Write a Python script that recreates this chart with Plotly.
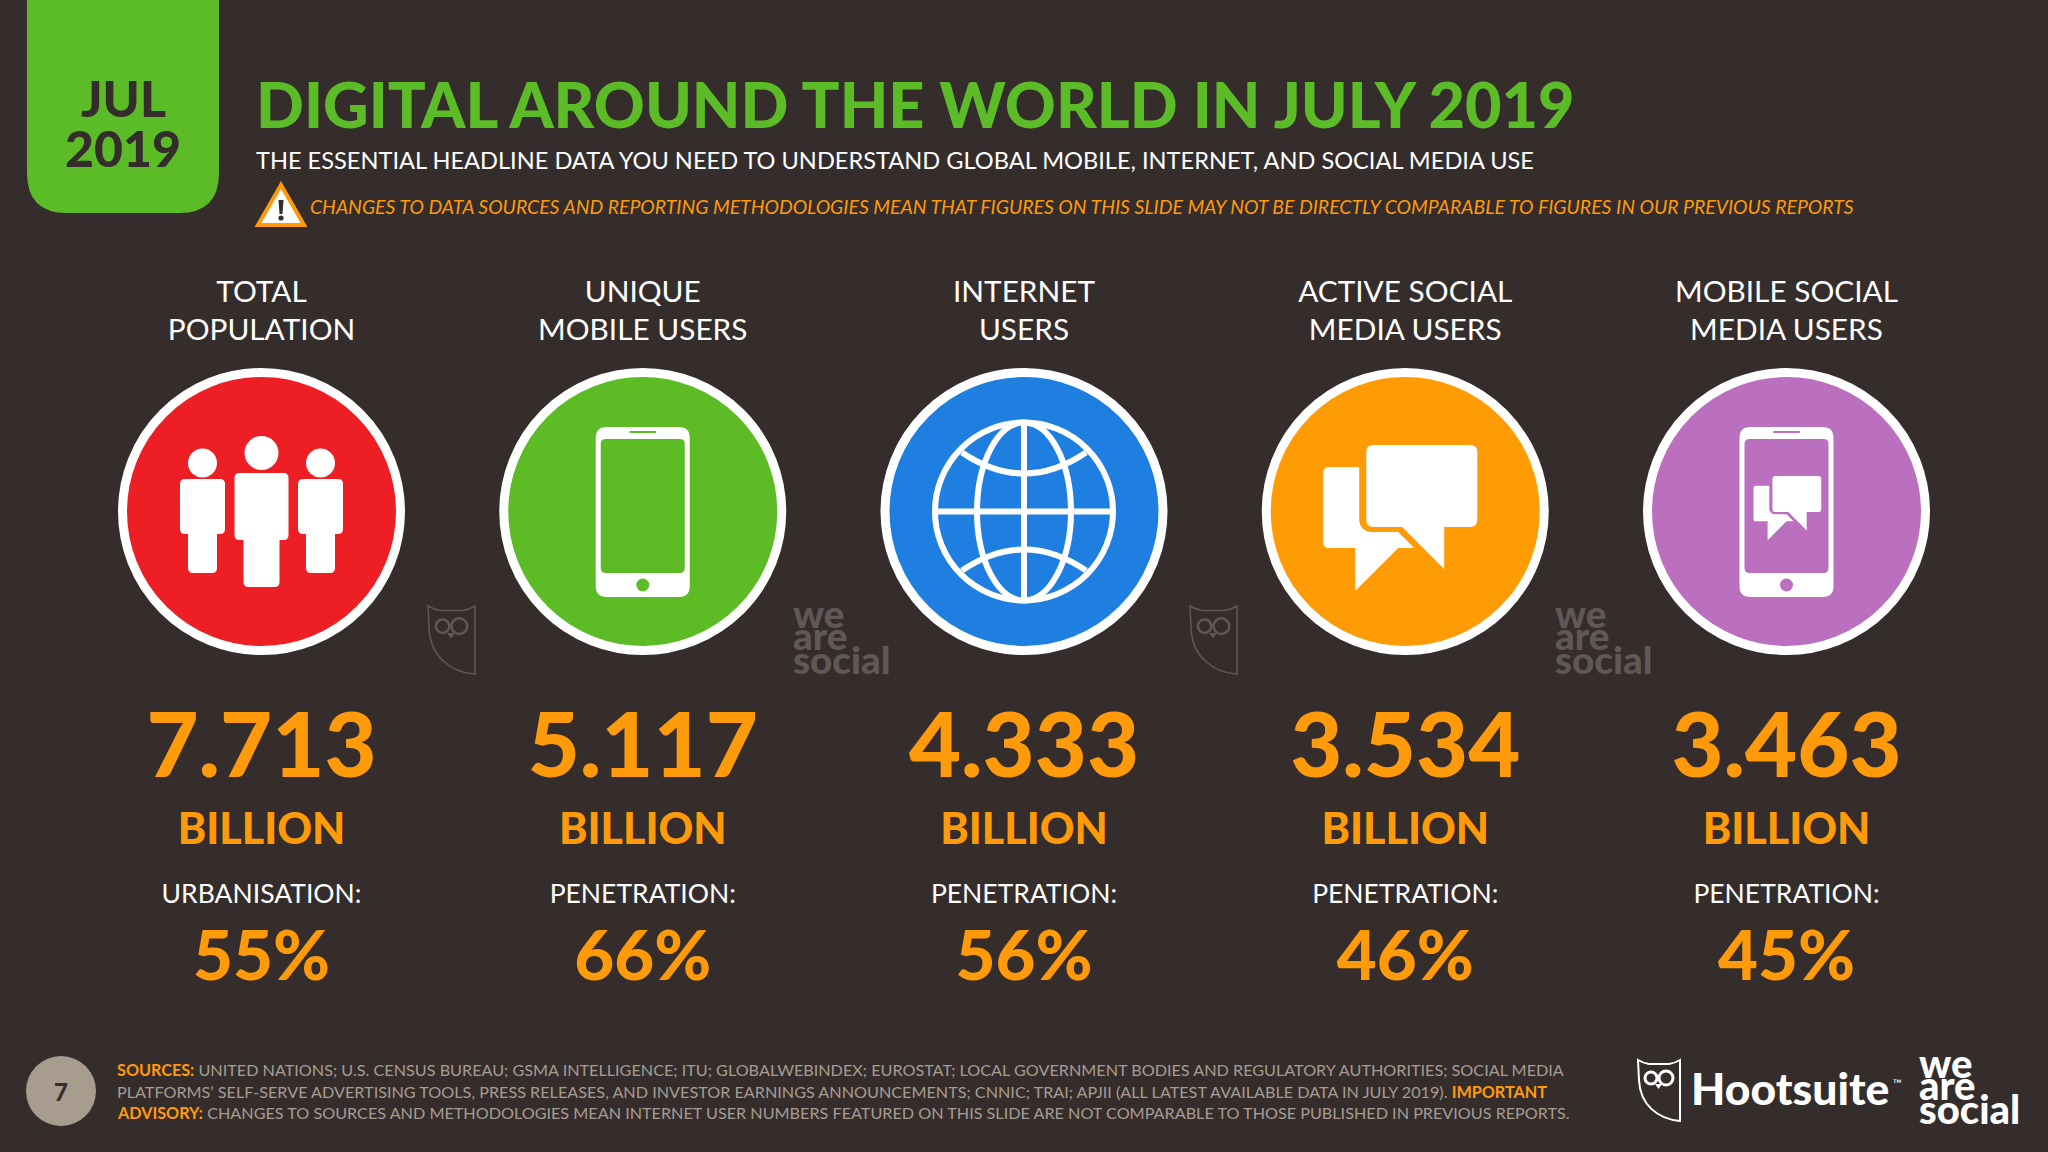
import plotly.graph_objects as go

# slide data
header_top = ["TOTAL", "UNIQUE", "INTERNET", "ACTIVE SOCIAL", "MOBILE SOCIAL"]
header_bottom = ["POPULATION", "MOBILE USERS", "USERS", "MEDIA USERS", "MEDIA USERS"]
values = ["7.713", "5.117", "4.333", "3.534", "3.463"]
units = ["BILLION"] * 5
rate_labels = ["URBANISATION:", "PENETRATION:", "PENETRATION:", "PENETRATION:", "PENETRATION:"]
rates = ["55%", "66%", "56%", "46%", "45%"]
circle_colors = ["#ee1f24", "#5dbb26", "#1f7fe0", "#ff9b04", "#bb6fbf"]

BG = "#352d2b"
GREEN = "#5cbc27"
ORANGE = "#ff9a0a"
WHITE = "#ffffff"
FAINT = "#5f5856"
GREY = "#a69c92"
FONT = "Lato"

cx = [261.5 + 381.25 * i for i in range(5)]
cy = 511.5


def rrect(x0, y0, x1, y1, r):
    return (f"M{x0+r},{y0} L{x1-r},{y0} Q{x1},{y0} {x1},{y0+r} L{x1},{y1-r} Q{x1},{y1} {x1-r},{y1} "
            f"L{x0+r},{y1} Q{x0},{y1} {x0},{y1-r} L{x0},{y0+r} Q{x0},{y0} {x0+r},{y0} Z")


shapes = []


def path(d, fill=WHITE, line=None, width=0):
    shapes.append(dict(type="path", path=d, fillcolor=fill, xref="x", yref="y",
                       line=dict(color=line or fill, width=width)))


def circle(x, y, r, fill=WHITE, line=None, width=0):
    shapes.append(dict(type="circle", x0=x - r, x1=x + r, y0=y - r, y1=y + r, xref="x", yref="y",
                       fillcolor=fill, line=dict(color=line or fill, width=width)))


def ellipse(x, y, rx, ry, line, width):
    shapes.append(dict(type="circle", x0=x - rx, x1=x + rx, y0=y - ry, y1=y + ry, xref="x", yref="y",
                       fillcolor="rgba(0,0,0,0)", line=dict(color=line, width=width)))


def person(x, head_y, head_r, body_w, body_top, body_bot, leg_w, leg_bot):
    circle(x, head_y, head_r)
    path(rrect(x - body_w / 2, body_top, x + body_w / 2, body_bot, 5))
    path(rrect(x - leg_w / 2, body_bot - 10, x + leg_w / 2, leg_bot, 5))


def phone(x, half_w, half_screen, color):
    path(rrect(x - half_w, 427, x + half_w, 597, 11))
    path(rrect(x - half_screen, 439, x + half_screen, 573, 5), fill=color)
    path(rrect(x - 13.5, 431, x + 13.5, 433, 1), fill=color)
    circle(x, 585, 6.5, fill=color)


def chat(x, y, s):
    # x, y is the top left corner of the icon, s scales it
    def p(a, b):
        return f"{x + a * s:.1f},{y + b * s:.1f}"
    path(f"M{p(6, 22)} L{p(36, 22)} L{p(36, 75)} Q{p(37, 87)} {p(50, 87)} L{p(75, 87)} L{p(91, 103)} "
         f"L{p(75, 103)} L{p(32, 146)} L{p(32, 103)} L{p(6, 103)} Q{p(0, 103)} {p(0, 97)} L{p(0, 28)} Q{p(0, 22)} {p(6, 22)} Z")
    path(rrect(x + 43 * s, y, x + 154 * s, y + 82 * s, 7 * s))
    path(f"M{p(78, 81)} L{p(121, 124)} L{p(121, 81)} Z")


def owl(x, y, s, color, lw):
    def p(a, b):
        return f"{x + a * s:.1f},{y + b * s:.1f}"
    path(f"M{p(0, 0)} Q{p(5, 3)} {p(11, 4)} L{p(31, 4)} Q{p(37, 3)} {p(42, 0)} L{p(42, 61)} "
         f"C{p(20, 59)} {p(2, 45)} {p(1, 20)} Z", fill="rgba(0,0,0,0)", line=color, width=lw)
    ellipse(x + 13 * s, y + 18 * s, 6 * s, 6 * s, color, lw + 1)
    ellipse(x + 28 * s, y + 18 * s, 7 * s, 7 * s, color, lw + 1)
    path(f"M{p(17, 24)} L{p(24, 24)} L{p(20.5, 29)} Z", fill=color)


# date tab and warning sign
path(f"M27,-20 L219,-20 L219,173 Q219,213 179,213 L67,213 Q27,213 27,173 Z", fill=GREEN)
path("M281,185 L304,225 L258,225 Z", fill=WHITE, line=ORANGE, width=4)
path("M278.5,200 L283.5,200 L282.5,214 L279.5,214 Z", fill=BG)
circle(281, 218, 2.6, fill=BG)

# icons, people
person(cx[0], 453, 17, 54, 473, 540, 36, 587)
person(cx[0] - 59, 463, 14.5, 45, 479, 534, 29, 573)
person(cx[0] + 59, 463, 14.5, 45, 479, 534, 29, 573)

# phone
phone(cx[1], 47, 42, circle_colors[1])

# globe
gx = cx[2]
ellipse(gx, cy, 89, 89, WHITE, 6)
ellipse(gx, cy, 47, 89, WHITE, 6)
path(f"M{gx},{cy-89} L{gx},{cy+89}", fill="rgba(0,0,0,0)", line=WHITE, width=6)
path(f"M{gx-89},{cy} L{gx+89},{cy}", fill="rgba(0,0,0,0)", line=WHITE, width=6)
path(f"M{gx-62},{cy-59} Q{gx},{cy-17} {gx+62},{cy-59}", fill="rgba(0,0,0,0)", line=WHITE, width=6)
path(f"M{gx-62},{cy+59} Q{gx},{cy+17} {gx+62},{cy+59}", fill="rgba(0,0,0,0)", line=WHITE, width=6)

# speech bubbles
chat(cx[3] - 82, 445, 1)

# phone with bubbles
phone(cx[4], 47, 42, circle_colors[4])
chat(cx[4] - 33, 476, 0.44)

# watermarks and logos
owl(428, 606, 1.12, FAINT, 1.5)
owl(1190, 606, 1.12, FAINT, 1.5)
owl(1638, 1060, 1, WHITE, 2)

# page number
circle(61, 1091, 35, fill="#a89c8f")

annotations = []


def label(x, y, text, size, color=WHITE, weight=400, anchor="left", italic=False):
    annotations.append(dict(x=x, y=y, xref="x", yref="y", text=text, showarrow=False,
                            xanchor=anchor, yanchor="middle", align=anchor,
                            font=dict(family=FONT, size=size, color=color, weight=weight,
                                      style="italic" if italic else "normal")))


label(123, 98, "JUL", 50, BG, 900, "center")
label(123, 148, "2019", 50, BG, 900, "center")
label(254, 103, "DIGITAL AROUND THE WORLD IN JULY 2019", 63, GREEN, 900)
label(254, 160, "THE ESSENTIAL HEADLINE DATA YOU NEED TO UNDERSTAND GLOBAL MOBILE, INTERNET, AND SOCIAL MEDIA USE", 23.6)
label(308, 206, "CHANGES TO DATA SOURCES AND REPORTING METHODOLOGIES MEAN THAT FIGURES ON THIS SLIDE MAY NOT BE DIRECTLY COMPARABLE TO FIGURES IN OUR PREVIOUS REPORTS",
      19.4, ORANGE, 400, italic=True)

# footer
hl = '<b><span style="color:%s">%%s</span></b>' % ORANGE
label(115, 1069, hl % "SOURCES:" + " UNITED NATIONS; U.S. CENSUS BUREAU; GSMA INTELLIGENCE; ITU; GLOBALWEBINDEX; EUROSTAT; LOCAL GOVERNMENT BODIES AND REGULATORY AUTHORITIES; SOCIAL MEDIA", 16.2, GREY)
label(115, 1091, "PLATFORMS’ SELF-SERVE ADVERTISING TOOLS, PRESS RELEASES, AND INVESTOR EARNINGS ANNOUNCEMENTS; CNNIC; TRAI; APJII (ALL LATEST AVAILABLE DATA IN JULY 2019). " + hl % "IMPORTANT", 16.2, GREY)
label(115, 1112, hl % "ADVISORY:" + " CHANGES TO SOURCES AND METHODOLOGIES MEAN INTERNET USER NUMBERS FEATURED ON THIS SLIDE ARE NOT COMPARABLE TO THOSE PUBLISHED IN PREVIOUS REPORTS.", 16.2, GREY)
label(61, 1091, "7", 24, BG, 900, "center")

# logos as text
label(1689, 1087, "Hootsuite", 44.5, WHITE, 900)
label(1891, 1083, "™", 12, WHITE)
for x_off, y_off, size, color in [(1917, 0, 40, WHITE), (791, -450, 38.5, FAINT), (1553, -450, 38.5, FAINT)]:
    label(x_off, 1063 + y_off, "we", size, color, 900)
    label(x_off, 1085 + y_off, "are", size, color, 900)
    label(x_off, 1109 + y_off, "social", size, color, 900)

fig = go.Figure()

# circles
fig.add_trace(go.Scatter(x=cx, y=[cy] * 5, mode="markers", hoverinfo="skip",
                         marker=dict(size=278, color=circle_colors, line=dict(color=WHITE, width=9))))


def row(texts, y, size, color, weight):
    fig.add_trace(go.Scatter(x=cx, y=[y] * 5, mode="text", text=texts, hoverinfo="skip",
                             textposition="middle center",
                             textfont=dict(family=FONT, size=size, color=color, weight=weight)))


row(header_top, 295, 29.8, WHITE, 400)
row(header_bottom, 333, 29.8, WHITE, 400)
row(values, 754, 90, ORANGE, 900)
row(units, 833, 43, ORANGE, 900)
row(rate_labels, 896, 26.5, WHITE, 400)
row(rates, 963, 69, ORANGE, 900)

fig.update_layout(
    width=2048, height=1152, margin=dict(l=0, r=0, t=0, b=0),
    paper_bgcolor=BG, plot_bgcolor=BG, showlegend=False,
    xaxis=dict(range=[0, 2048], visible=False, fixedrange=True),
    yaxis=dict(range=[1152, 0], visible=False, fixedrange=True),
    shapes=shapes, annotations=annotations,
)

fig.write_html("out.html", config={"displayModeBar": False},
               post_script="document.body.style.margin='0';")
